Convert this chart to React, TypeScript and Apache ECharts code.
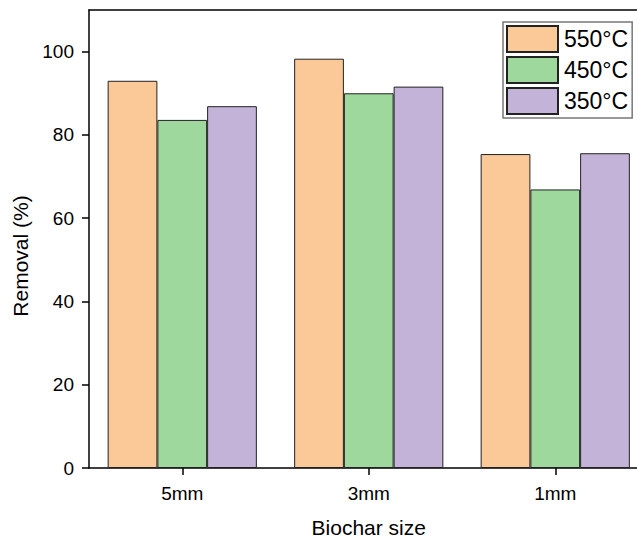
import React, { useEffect, useRef } from "react";
import * as echarts from "echarts";

const categories = ["5mm", "3mm", "1mm"];
const seriesNames = ["550°C", "450°C", "350°C"];
const values550 = [93.0, 98.3, 75.4];
const values450 = [83.6, 90.0, 66.9];
const values350 = [86.9, 91.6, 75.6];
const colors = ["#FBC898", "#9ED89C", "#C3B3D8"];

export default function App() {
  const ref = useRef<HTMLDivElement>(null);
  useEffect(() => {
    if (!ref.current) return;
    const chart = echarts.init(ref.current, undefined, { renderer: "svg" });
    const font = "Liberation Sans, Arial, sans-serif";
    const data = [values550, values450, values350];
    chart.setOption({
      animation: false,
      backgroundColor: "#ffffff",
      textStyle: { fontFamily: font },
      grid: { left: 89, top: 10, right: 11.5, bottom: 70, containLabel: false },
      legend: {
        orient: "vertical",
        left: 503,
        top: 22,
        padding: [3, 4, 3, 3],
        itemWidth: 51,
        itemHeight: 26,
        itemGap: 3,
        icon: "rect",
        borderColor: "#777777",
        borderWidth: 1.5,
        backgroundColor: "#ffffff",
        textStyle: { fontSize: 23, color: "#000", fontFamily: font, padding: [0, 0, 0, 1] },
        data: seriesNames,
      },
      xAxis: [
        {
          type: "category",
          data: categories,
          axisLine: { show: true, lineStyle: { color: "#000", width: 1.5 } },
          axisTick: { show: true, alignWithLabel: true, length: 7, lineStyle: { color: "#000", width: 1.5 } },
          axisLabel: { fontSize: 19, color: "#000", margin: 16, fontFamily: font },
          name: "Biochar size",
          nameLocation: "middle",
          nameGap: 49,
          nameTextStyle: { fontSize: 21, color: "#000", fontFamily: font },
        },
        {
          type: "category",
          data: categories,
          position: "top",
          axisLine: { show: true, onZero: false, lineStyle: { color: "#000", width: 1.5 } },
          axisTick: { show: false },
          axisLabel: { show: false },
        },
      ],
      yAxis: {
        type: "value",
        min: 0,
        max: 110,
        interval: 20,
        splitLine: { show: false },
        axisLine: { show: true, lineStyle: { color: "#000", width: 1.5 } },
        axisTick: { show: true, length: 7, lineStyle: { color: "#000", width: 1.5 } },
        axisLabel: { fontSize: 19, color: "#000", margin: 15, showMaxLabel: false, fontFamily: font },
        name: "Removal (%)",
        nameLocation: "middle",
        nameGap: 54,
        nameTextStyle: { fontSize: 21, color: "#000", fontFamily: font, padding: [0, 34, 0, 0] },
      },
      series: seriesNames.map((name, i) => ({
        name,
        type: "bar",
        data: data[i],
        barGap: "0%",
        barCategoryGap: "20%",
        itemStyle: { color: colors[i], borderColor: "#222", borderWidth: 1 },
      })),
    });
    return () => chart.dispose();
  }, []);
  return (
    <div style={{ position: "absolute", left: 0, top: 0, width: 637, height: 543, overflow: "hidden", background: "#fff" }}>
      <div ref={ref} style={{ width: 660, height: 543 }} />
    </div>
  );
}
